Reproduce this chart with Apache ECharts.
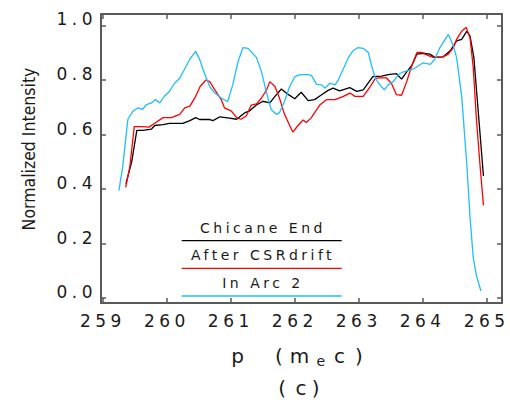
<!DOCTYPE html>
<html>
<head>
<meta charset="utf-8">
<script src="https://cdn.jsdelivr.net/npm/echarts@6/dist/echarts.min.js"></script>
<style>
  html, body { margin: 0; padding: 0; background: #fff; }
  #chart { width: 510px; height: 403px; }
  /* wide, evenly spaced lettering for tick labels and the key */
  #chart text[style*="17px"] { letter-spacing: 4.5px; }
  #chart text[style*="14px"] { letter-spacing: 3.5px; }
</style>
</head>
<body>
<div id="chart"></div>
<script>
// Tick positions
const pTicks = [259, 260, 261, 262, 263, 264, 265];
const intensityTicks = [0, 0.2, 0.4, 0.6, 0.8, 1.0];

// Series names and colours
const seriesNames = ['Chicane End', 'After CSRdrift', 'In Arc 2'];
const seriesColors = ['#000000', '#ff0000', '#1ebeff'];

// Normalized intensity vs momentum p (m_e c)
const chicaneEnd = [
  [259.36,0.42],[259.45,0.50],[259.53,0.615],[259.62,0.615],[259.76,0.620],[259.81,0.633],
  [259.94,0.636],[260.04,0.641],[260.15,0.641],[260.25,0.641],[260.36,0.651],[260.45,0.662],
  [260.51,0.655],[260.67,0.655],[260.72,0.651],[260.83,0.665],[260.98,0.660],[261.09,0.656],
  [261.22,0.680],[261.29,0.686],[261.40,0.708],[261.50,0.722],[261.61,0.716],[261.69,0.740],
  [261.79,0.767],[261.89,0.748],[262.00,0.731],[262.10,0.755],[262.21,0.724],[262.31,0.728],
  [262.42,0.746],[262.52,0.762],[262.60,0.770],[262.70,0.760],[262.86,0.772],[262.97,0.758],
  [263.07,0.764],[263.22,0.812],[263.36,0.814],[263.46,0.820],[263.59,0.823],[263.67,0.803],
  [263.75,0.830],[263.83,0.853],[263.91,0.895],[264.01,0.898],[264.11,0.895],[264.19,0.883],
  [264.32,0.885],[264.43,0.907],[264.53,0.943],[264.61,0.949],[264.69,0.979],[264.74,0.961],
  [264.80,0.883],[264.87,0.680],[264.95,0.448]
];

const afterCsrDrift = [
  [259.355,0.406],[259.42,0.48],[259.49,0.629],[259.62,0.629],[259.72,0.627],[259.81,0.641],
  [259.94,0.662],[260.07,0.662],[260.20,0.674],[260.28,0.698],[260.36,0.704],[260.45,0.740],
  [260.52,0.776],[260.61,0.800],[260.67,0.794],[260.75,0.764],[260.85,0.728],[260.90,0.698],
  [261.01,0.686],[261.09,0.662],[261.16,0.656],[261.24,0.668],[261.32,0.708],[261.40,0.712],
  [261.48,0.734],[261.56,0.764],[261.61,0.794],[261.69,0.776],[261.76,0.734],[261.84,0.674],
  [261.92,0.633],[261.97,0.609],[262.05,0.633],[262.13,0.653],[262.18,0.644],[262.26,0.662],
  [262.31,0.680],[262.39,0.708],[262.50,0.728],[262.63,0.728],[262.76,0.740],[262.86,0.752],
  [262.94,0.740],[263.07,0.740],[263.18,0.776],[263.26,0.806],[263.33,0.808],[263.43,0.808],
  [263.51,0.788],[263.59,0.746],[263.67,0.744],[263.75,0.794],[263.83,0.853],[263.91,0.901],
  [263.98,0.901],[264.06,0.892],[264.16,0.883],[264.32,0.885],[264.40,0.895],[264.48,0.919],
  [264.53,0.949],[264.61,0.979],[264.68,0.993],[264.74,0.955],[264.79,0.847],[264.84,0.656],
  [264.90,0.477],[264.95,0.340]
];

const inArc2 = [
  [259.25,0.394],[259.31,0.483],[259.39,0.656],[259.47,0.686],[259.55,0.698],[259.62,0.692],
  [259.68,0.710],[259.76,0.716],[259.82,0.728],[259.89,0.716],[259.96,0.740],[260.04,0.758],
  [260.12,0.788],[260.20,0.806],[260.28,0.841],[260.36,0.877],[260.45,0.905],[260.51,0.877],
  [260.59,0.823],[260.67,0.776],[260.75,0.752],[260.85,0.734],[260.95,0.720],[261.03,0.782],
  [261.11,0.865],[261.19,0.919],[261.27,0.916],[261.40,0.883],[261.48,0.830],[261.56,0.752],
  [261.63,0.692],[261.71,0.674],[261.76,0.680],[261.84,0.722],[261.92,0.776],[262.00,0.812],
  [262.09,0.820],[262.21,0.820],[262.26,0.817],[262.34,0.784],[262.42,0.782],[262.47,0.770],
  [262.55,0.788],[262.63,0.782],[262.68,0.800],[262.76,0.841],[262.84,0.883],[262.91,0.907],
  [262.99,0.919],[263.07,0.916],[263.15,0.901],[263.20,0.853],[263.26,0.806],[263.33,0.782],
  [263.40,0.764],[263.46,0.782],[263.54,0.794],[263.62,0.820],[263.70,0.830],[263.78,0.835],
  [263.86,0.841],[263.94,0.853],[264.01,0.863],[264.12,0.857],[264.19,0.877],[264.27,0.919],
  [264.40,0.967],[264.47,0.931],[264.53,0.883],[264.61,0.740],[264.69,0.489],[264.74,0.298],
  [264.79,0.149],[264.84,0.083],[264.91,0.026]
];

const seriesData = [chicaneEnd, afterCsrDrift, inArc2];

const FONT = '"DejaVu Sans", "Noto Sans", sans-serif';
const NARROW = '"DejaVu Sans Condensed", "Liberation Sans Narrow", "DejaVu Sans", sans-serif';
const FRAME = '#5a5a5a';
const TEXT = '#1a1a1a';

const P_RANGE = [258.97, 265.24];
const I_RANGE = [-0.018, 1.042];

function frameAxis(extra) {
  return Object.assign({
    type: 'value',
    scale: true,
    axisLine: { show: true, onZero: false, lineStyle: { color: FRAME, width: 2 } },
    axisTick: { show: true, inside: true, length: 5, lineStyle: { color: FRAME, width: 1.5 } },
    splitLine: { show: false },
    axisLabel: { show: false }
  }, extra);
}

const tokenBase = { fontFamily: FONT, fontSize: 20, lineHeight: 26, color: TEXT };
const tok = (pad) => Object.assign({}, tokenBase, { padding: pad });
const tok2 = (pad) => Object.assign({}, tokenBase, { lineHeight: 38, padding: pad });

const option = {
  animation: false,
  backgroundColor: '#ffffff',
  grid: { left: 101, right: 8, top: 14, bottom: 93, containLabel: false },
  xAxis: [
    frameAxis({
      min: P_RANGE[0], max: P_RANGE[1], position: 'bottom',
      axisTick: { show: true, inside: true, length: 5, customValues: pTicks,
                  lineStyle: { color: FRAME, width: 1.5 } },
      axisLabel: {
        show: true, customValues: pTicks, margin: 9, color: TEXT,
        fontFamily: FONT, fontSize: 17,
        formatter: (v) => String(Math.round(v))
      },
      name: '{p|p}{lp|(}{m|m}{e|e}{c|c}{rp|)}\n{lp2|(}{c2|c}{rp2|)}',
      nameLocation: 'middle',
      nameGap: 40,
      nameTextStyle: {
        fontFamily: FONT, fontSize: 20, color: TEXT, align: 'center', verticalAlign: 'top',
        rich: {
          p: tok([0, 31, 0, 0]),
          lp: tok([0, 7, 0, 0]),
          m: tok([0, 9, 0, 0]),
          e: Object.assign({}, tokenBase, { fontSize: 14, padding: [10, 7, 0, 0] }),
          c: tok([0, 10, 0, 0]),
          rp: tok([0, 9, 0, 0]),
          lp2: tok2([0, 9.6, 0, 0]),
          c2: tok2([0, 5.1, 0, 0]),
          rp2: tok2([0, 5.3, 0, 0])
        }
      }
    }),
    frameAxis({
      min: P_RANGE[0], max: P_RANGE[1], position: 'top',
      axisTick: { show: true, inside: true, length: 5, customValues: pTicks,
                  lineStyle: { color: FRAME, width: 1.5 } }
    })
  ],
  yAxis: [
    frameAxis({
      min: I_RANGE[0], max: I_RANGE[1], position: 'left',
      axisTick: { show: true, inside: true, length: 5, customValues: intensityTicks,
                  lineStyle: { color: FRAME, width: 1.5 } },
      axisLabel: {
        show: true, customValues: intensityTicks, margin: 4, color: TEXT,
        fontFamily: FONT, fontSize: 17, verticalAlign: 'bottom', lineHeight: 12,
        formatter: (v) => v.toFixed(1)
      }
    }),
    frameAxis({
      min: I_RANGE[0], max: I_RANGE[1], position: 'right',
      axisTick: { show: true, inside: true, length: 5, customValues: intensityTicks,
                  lineStyle: { color: FRAME, width: 1.5 } }
    })
  ],
  series: seriesData.map((d, i) => ({
    name: seriesNames[i],
    type: 'line',
    xAxisIndex: 0,
    yAxisIndex: 0,
    data: d,
    showSymbol: false,
    symbol: 'none',
    z: 2 + i,
    lineStyle: { color: seriesColors[i], width: 1.3 },
    itemStyle: { color: seriesColors[i] },
    emphasis: { disabled: true }
  })),
  graphic: [
    {
      type: 'text', x: 29, y: 149, rotation: Math.PI / 2,
      style: { text: 'Normalized Intensity', fontSize: 17.5, fontFamily: NARROW,
               fill: TEXT, align: 'center', verticalAlign: 'middle' }
    }
  ]
};

// Key: each name sits above a short sample of its line
const keyTextY = [227.5, 254.5, 282.5];
const keyLineY = [240.7, 268.3, 296];
seriesNames.forEach((name, i) => {
  option.graphic.push({
    type: 'text', x: 263, y: keyTextY[i],
    style: { text: name, fontSize: 14, fontFamily: FONT, fill: TEXT,
             align: 'center', verticalAlign: 'middle' }
  });
  option.graphic.push({
    type: 'line',
    shape: { x1: 181.7, y1: keyLineY[i], x2: 341.7, y2: keyLineY[i] },
    style: { stroke: seriesColors[i], lineWidth: 1.3 }
  });
});

const chart = echarts.init(document.getElementById('chart'), null, { renderer: 'svg' });
chart.setOption(option);
</script>
</body>
</html>
